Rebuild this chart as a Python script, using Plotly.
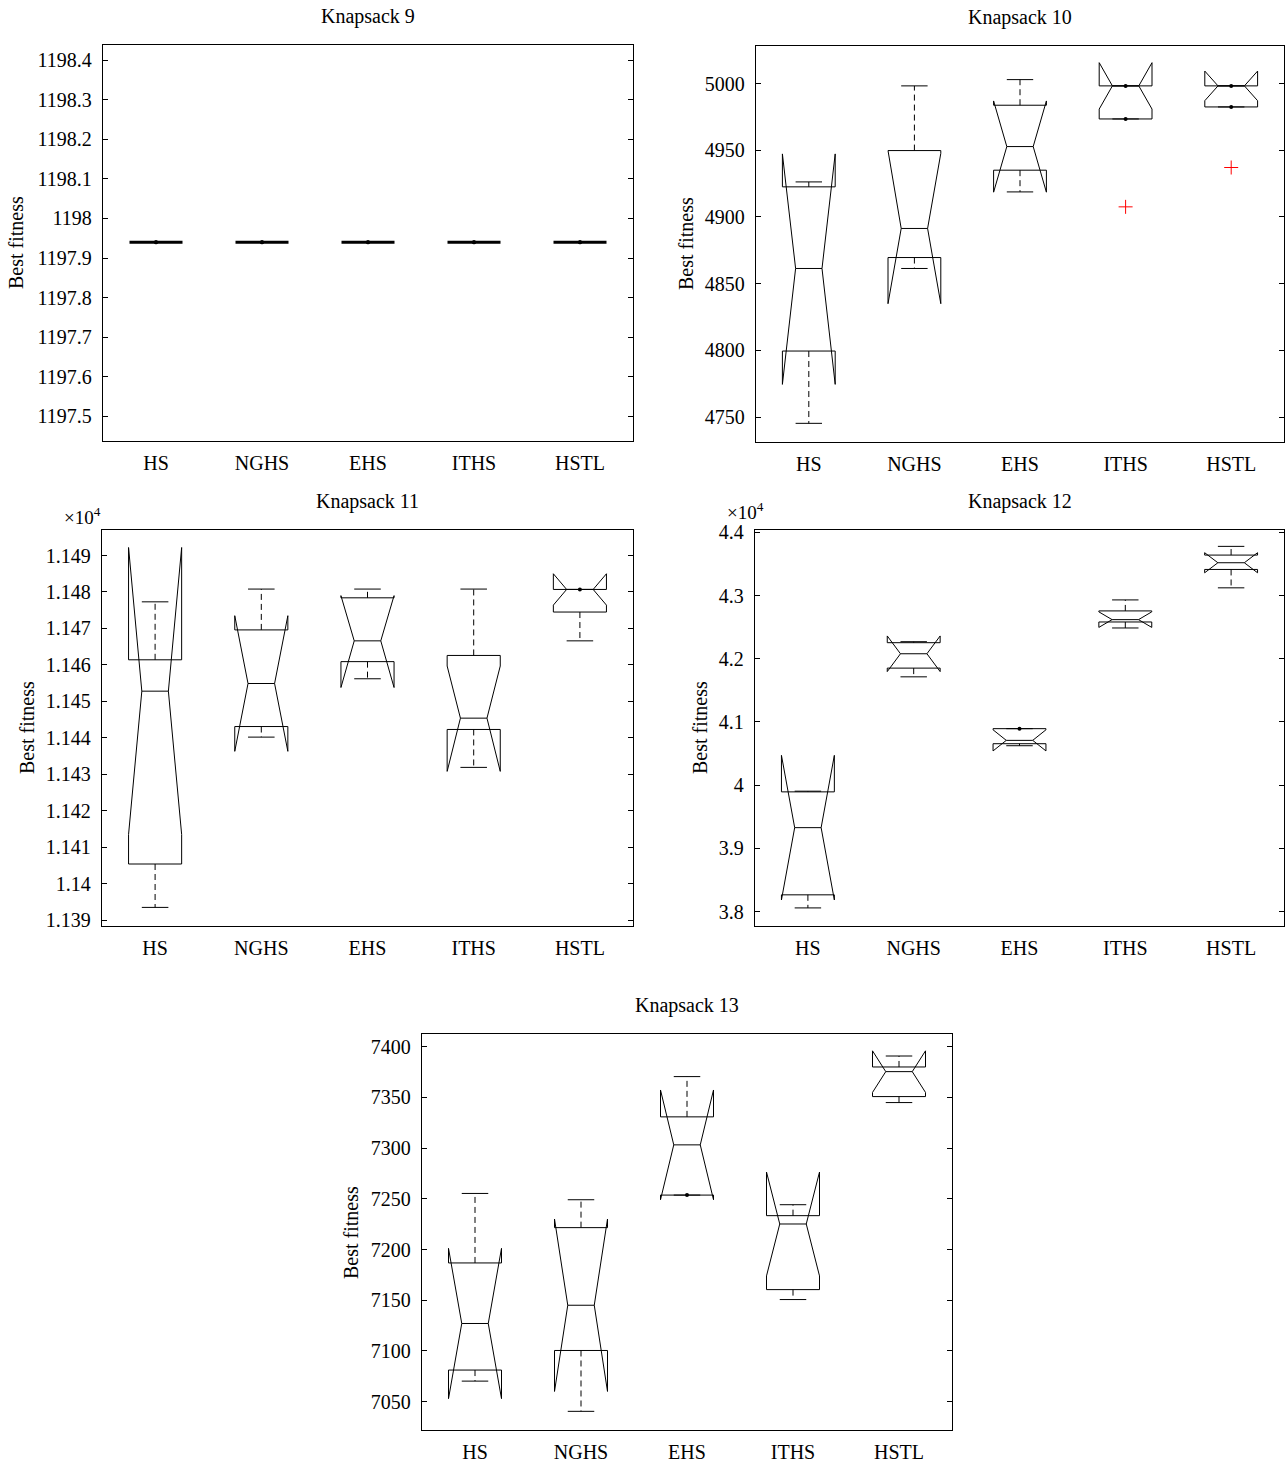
import plotly.graph_objects as go

METHODS = ["HS", "NGHS", "EHS", "ITHS", "HSTL"]

# ---- Knapsack 9 (all runs reach the same fitness) ----
K9_LOWER = [1197.94, 1197.94, 1197.94, 1197.94, 1197.94]
K9_Q1 = [1197.94, 1197.94, 1197.94, 1197.94, 1197.94]
K9_MEDIAN = [1197.94, 1197.94, 1197.94, 1197.94, 1197.94]
K9_Q3 = [1197.94, 1197.94, 1197.94, 1197.94, 1197.94]
K9_UPPER = [1197.94, 1197.94, 1197.94, 1197.94, 1197.94]
K9_NOTCH_LO = [1197.94, 1197.94, 1197.94, 1197.94, 1197.94]
K9_NOTCH_HI = [1197.94, 1197.94, 1197.94, 1197.94, 1197.94]
K9_OUTLIERS = [[], [], [], [], []]
K9_TICKS = [1197.5, 1197.6, 1197.7, 1197.8, 1197.9, 1198.0, 1198.1, 1198.2, 1198.3, 1198.4]
K9_TICK_TEXT = ["1197.5", "1197.6", "1197.7", "1197.8", "1197.9", "1198",
                "1198.1", "1198.2", "1198.3", "1198.4"]

# ---- Knapsack 10 ----
K10_LOWER = [4745.3, 4861.4, 4918.8, 4973.5, 4982.5]
K10_Q1 = [4799.5, 4869.6, 4935.1, 4973.5, 4982.5]
K10_MEDIAN = [4861.4, 4891.4, 4952.8, 4998.3, 4998.3]
K10_Q3 = [4922.6, 4949.8, 4983.8, 4998.3, 4998.3]
K10_UPPER = [4926.3, 4998.3, 5003.0, 4998.3, 4998.3]
K10_NOTCH_LO = [4774.5, 4835.0, 4918.6, 4980.9, 4987.2]
K10_NOTCH_HI = [4947.3, 4947.7, 4987.0, 5015.7, 5009.4]
K10_OUTLIERS = [[], [], [], [4907.6], [4937.1]]
K10_TICKS = [4750, 4800, 4850, 4900, 4950, 5000]
K10_TICK_TEXT = ["4750", "4800", "4850", "4900", "4950", "5000"]

# ---- Knapsack 11 ----
K11_LOWER = [11393.5, 11440.2, 11456.2, 11431.9, 11466.6]
K11_Q1 = [11405.4, 11443.1, 11460.9, 11442.3, 11474.5]
K11_MEDIAN = [11452.8, 11454.9, 11466.6, 11445.4, 11480.7]
K11_Q3 = [11461.4, 11469.6, 11478.4, 11462.6, 11480.7]
K11_UPPER = [11477.3, 11480.8, 11480.8, 11480.8, 11480.7]
K11_NOTCH_LO = [11413.5, 11436.3, 11453.8, 11430.8, 11476.4]
K11_NOTCH_HI = [11492.2, 11473.5, 11479.0, 11459.7, 11485.0]
K11_OUTLIERS = [[], [], [], [], []]
K11_TICKS = [11390, 11400, 11410, 11420, 11430, 11440, 11450, 11460, 11470, 11480, 11490]
K11_TICK_TEXT = ["1.139", "1.14", "1.141", "1.142", "1.143", "1.144", "1.145",
                 "1.146", "1.147", "1.148", "1.149"]

# ---- Knapsack 12 ----
K12_LOWER = [38058, 41714, 40624, 42487, 43122]
K12_Q1 = [38265, 41852, 40656, 42582, 43413]
K12_MEDIAN = [39328, 42079, 40709, 42619, 43519]
K12_Q3 = [39894, 42254, 40894, 42757, 43640]
K12_UPPER = [39905, 42270, 40894, 42931, 43778]
K12_NOTCH_LO = [38184, 41797, 40542, 42496, 43360]
K12_NOTCH_HI = [40472, 42361, 40876, 42742, 43678]
K12_OUTLIERS = [[], [], [], [], []]
K12_TICKS = [38000, 39000, 40000, 41000, 42000, 43000, 44000]
K12_TICK_TEXT = ["3.8", "3.9", "4", "4.1", "4.2", "4.3", "4.4"]

# ---- Knapsack 13 ----
K13_LOWER = [7070.3, 7040.5, 7253.7, 7150.7, 7344.9]
K13_Q1 = [7081.2, 7100.5, 7253.7, 7160.5, 7350.8]
K13_MEDIAN = [7127.1, 7145.1, 7303.2, 7225.2, 7375.4]
K13_Q3 = [7186.8, 7221.6, 7330.8, 7233.4, 7380.0]
K13_UPPER = [7255.3, 7249.1, 7370.5, 7244.2, 7390.8]
K13_NOTCH_LO = [7053.0, 7060.1, 7249.1, 7174.0, 7354.9]
K13_NOTCH_HI = [7201.2, 7230.1, 7357.3, 7276.4, 7395.9]
K13_OUTLIERS = [[], [], [], [], []]
K13_TICKS = [7050, 7100, 7150, 7200, 7250, 7300, 7350, 7400]
K13_TICK_TEXT = ["7050", "7100", "7150", "7200", "7250", "7300", "7350", "7400"]

PANELS = [
    dict(title="Knapsack 9", lower=K9_LOWER, q1=K9_Q1, med=K9_MEDIAN, q3=K9_Q3,
         upper=K9_UPPER, nlo=K9_NOTCH_LO, nhi=K9_NOTCH_HI, out=K9_OUTLIERS,
         ticks=K9_TICKS, ticktext=K9_TICK_TEXT, yrange=[1197.438, 1198.438],
         px=(103, 633), py=(45, 441), ylab_x=16, exp=None),
    dict(title="Knapsack 10", lower=K10_LOWER, q1=K10_Q1, med=K10_MEDIAN, q3=K10_Q3,
         upper=K10_UPPER, nlo=K10_NOTCH_LO, nhi=K10_NOTCH_HI, out=K10_OUTLIERS,
         ticks=K10_TICKS, ticktext=K10_TICK_TEXT, yrange=[4731.3, 5028.2],
         px=(756, 1284), py=(46, 442), ylab_x=686, exp=None),
    dict(title="Knapsack 11", lower=K11_LOWER, q1=K11_Q1, med=K11_MEDIAN, q3=K11_Q3,
         upper=K11_UPPER, nlo=K11_NOTCH_LO, nhi=K11_NOTCH_HI, out=K11_OUTLIERS,
         ticks=K11_TICKS, ticktext=K11_TICK_TEXT, yrange=[11388.4, 11497.0],
         px=(102, 633), py=(530, 926), ylab_x=27, exp=(82, 516)),
    dict(title="Knapsack 12", lower=K12_LOWER, q1=K12_Q1, med=K12_MEDIAN, q3=K12_Q3,
         upper=K12_UPPER, nlo=K12_NOTCH_LO, nhi=K12_NOTCH_HI, out=K12_OUTLIERS,
         ticks=K12_TICKS, ticktext=K12_TICK_TEXT, yrange=[37772, 44037],
         px=(755, 1284), py=(530, 926), ylab_x=700, exp=(746, 511)),
    dict(title="Knapsack 13", lower=K13_LOWER, q1=K13_Q1, med=K13_MEDIAN, q3=K13_Q3,
         upper=K13_UPPER, nlo=K13_NOTCH_LO, nhi=K13_NOTCH_HI, out=K13_OUTLIERS,
         ticks=K13_TICKS, ticktext=K13_TICK_TEXT, yrange=[7022.1, 7412.5],
         px=(422, 952), py=(1034, 1430), ylab_x=351, exp=None),
]

W, H = 1288, 1462
FONT = "Liberation Serif, Times New Roman, serif"
FS = 20
BOX_HALF = 0.25     # half width of each box (in category units)
NOTCH_HALF = 0.125  # half width at the notch waist / whisker caps

fig = go.Figure()
layout = dict(
    width=W, height=H, margin=dict(l=0, r=0, t=0, b=0, autoexpand=False),
    paper_bgcolor="white", plot_bgcolor="white", showlegend=False,
    font=dict(family=FONT, size=FS, color="black"),
)
annotations = []

for k, p in enumerate(PANELS):
    sfx = "" if k == 0 else str(k + 1)
    xa, ya = "x" + sfx, "y" + sfx
    x0, x1 = p["px"][0] / W, p["px"][1] / W
    y0, y1 = 1 - p["py"][1] / H, 1 - p["py"][0] / H

    med_x, med_y = [], []
    wh_x, wh_y = [], []
    cap_x, cap_y = [], []
    dot_x, dot_y = [], []
    out_x, out_y = [], []

    for i in range(len(METHODS)):
        c = i + 1
        q1, q3, md = p["q1"][i], p["q3"][i], p["med"][i]
        lo, hi = p["nlo"][i], p["nhi"][i]
        # notched box outline (folds outward when the notch passes the quartiles)
        bx = [c - BOX_HALF, c - BOX_HALF, c - NOTCH_HALF, c - BOX_HALF, c - BOX_HALF,
              c + BOX_HALF, c + BOX_HALF, c + NOTCH_HALF, c + BOX_HALF, c + BOX_HALF,
              c - BOX_HALF]
        by = [q1, lo, md, hi, q3, q3, hi, md, lo, q1, q1]
        flat = q3 == q1
        fig.add_trace(go.Scatter(
            x=bx, y=by, mode="lines", xaxis=xa, yaxis=ya, hoverinfo="skip",
            line=dict(color="black", width=3 if flat else 1)))

        med_x += [c - NOTCH_HALF, c + NOTCH_HALF, None]
        med_y += [md, md, None]

        for edge, end in ((q3, p["upper"][i]), (q1, p["lower"][i])):
            if end != edge:
                wh_x += [c, c, None]
                wh_y += [edge, end, None]
            else:
                dot_x.append(c)
                dot_y.append(end)
            cap_x += [c - NOTCH_HALF, c + NOTCH_HALF, None]
            cap_y += [end, end, None]

        for v in p["out"][i]:
            out_x.append(c)
            out_y.append(v)

    fig.add_trace(go.Scatter(x=med_x, y=med_y, mode="lines", xaxis=xa, yaxis=ya,
                             hoverinfo="skip", line=dict(color="black", width=1)))
    fig.add_trace(go.Scatter(x=wh_x, y=wh_y, mode="lines", xaxis=xa, yaxis=ya,
                             hoverinfo="skip",
                             line=dict(color="black", width=1, dash="6px,4px")))
    fig.add_trace(go.Scatter(x=cap_x, y=cap_y, mode="lines", xaxis=xa, yaxis=ya,
                             hoverinfo="skip", line=dict(color="black", width=1)))
    if dot_x:
        fig.add_trace(go.Scatter(x=dot_x, y=dot_y, mode="markers", xaxis=xa, yaxis=ya,
                                 hoverinfo="skip",
                                 marker=dict(color="black", size=4, symbol="circle")))
    if out_x:
        fig.add_trace(go.Scatter(x=out_x, y=out_y, mode="markers", xaxis=xa, yaxis=ya,
                                 hoverinfo="skip",
                                 marker=dict(symbol="cross-thin", size=10,
                                             line=dict(color="red", width=1))))

    layout["xaxis" + sfx] = dict(
        domain=[x0, x1], anchor=ya, range=[0.5, 5.5], automargin=False,
        tickvals=[1, 2, 3, 4, 5], ticktext=METHODS, ticks="",
        showline=True, mirror=True, linecolor="black", linewidth=1.3,
        showgrid=False, zeroline=False, fixedrange=True,
        ticklabelstandoff=4, tickfont=dict(family=FONT, size=FS),
    )
    layout["yaxis" + sfx] = dict(
        domain=[y0, y1], anchor=xa, range=p["yrange"], automargin=False,
        tickvals=p["ticks"], ticktext=p["ticktext"],
        ticks="inside", ticklen=5, tickwidth=1, tickcolor="black",
        showline=True, mirror="ticks", linecolor="black", linewidth=1.3,
        showgrid=False, zeroline=False, fixedrange=True,
        ticklabelstandoff=6, tickfont=dict(family=FONT, size=FS),
    )

    # panel title
    annotations.append(dict(
        text=p["title"], xref="paper", yref="paper",
        x=(x0 + x1) / 2, y=1 - (p["py"][0] - 29) / H,
        xanchor="center", yanchor="middle", showarrow=False,
        font=dict(family=FONT, size=FS)))
    # y-axis title
    annotations.append(dict(
        text="Best fitness", xref="paper", yref="paper",
        x=p["ylab_x"] / W, y=(y0 + y1) / 2, textangle=-90,
        xanchor="center", yanchor="middle", showarrow=False,
        font=dict(family=FONT, size=FS)))
    # axis exponent label
    if p["exp"]:
        annotations.append(dict(
            text="×10<sup>4</sup>", xref="paper", yref="paper",
            x=p["exp"][0] / W, y=1 - p["exp"][1] / H,
            xanchor="center", yanchor="middle", showarrow=False,
            font=dict(family=FONT, size=FS - 1)))

layout["annotations"] = annotations
fig.update_layout(**layout)
fig.write_html("out.html")
